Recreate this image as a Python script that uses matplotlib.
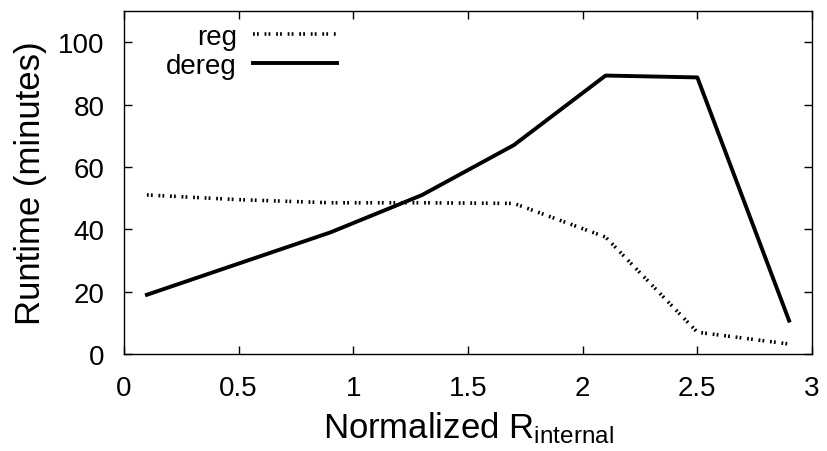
import matplotlib
matplotlib.use("Agg")
import matplotlib.pyplot as plt

# ---- data ----
r_internal = [0.1, 0.5, 0.9, 1.3, 1.7, 2.1, 2.5, 2.9]
reg = [51, 49.5, 48.5, 48.5, 48.3, 37.5, 7, 3.2]
dereg = [19, 29, 39, 51, 67, 89.3, 88.7, 10.7]

x_ticks = [0, 0.5, 1, 1.5, 2, 2.5, 3]
x_tick_labels = ["0", "0.5", "1", "1.5", "2", "2.5", "3"]
y_ticks = [0, 20, 40, 60, 80, 100]

plt.rcParams["font.family"] = ["Liberation Sans", "DejaVu Sans"]
plt.rcParams["mathtext.fontset"] = "custom"
plt.rcParams["mathtext.rm"] = "Liberation Sans"
plt.rcParams["mathtext.it"] = "Liberation Sans"

fig = plt.figure(figsize=(8.27, 4.52), dpi=100)
ax = fig.add_axes([124 / 827, 1 - 355 / 452, (812 - 124) / 827, (355 - 12) / 452])

ax.plot(r_internal, reg, color="black", linewidth=2.6,
        linestyle=(0, (0.5, 0.6, 0.5, 1.6)), label="reg")
ax.plot(r_internal, dereg, color="black", linewidth=2.8,
        linestyle="-", label="dereg")

ax.set_xlim(0, 3)
ax.set_ylim(0, 110)
ax.set_xticks(x_ticks)
ax.set_xticklabels(x_tick_labels)
ax.set_yticks(y_ticks)

ax.tick_params(direction="in", length=6, width=1, top=True, right=True,
               labelsize=20)
ax.tick_params(axis="x", pad=15)
ax.tick_params(axis="y", pad=14)
for s in ax.spines.values():
    s.set_linewidth(1)

ax.set_xlabel("Normalized R$_{\\mathrm{internal}}$", fontsize=25, labelpad=6)
ax.set_ylabel("Runtime (minutes)", fontsize=25, labelpad=8)

ax.legend(loc="upper left", frameon=False, fontsize=20, markerfirst=False,
          handlelength=3.0, handletextpad=0.6, labelspacing=0.12,
          borderaxespad=0.0, bbox_to_anchor=(0.045, 0.995))

fig.savefig("out.png", dpi=100)
